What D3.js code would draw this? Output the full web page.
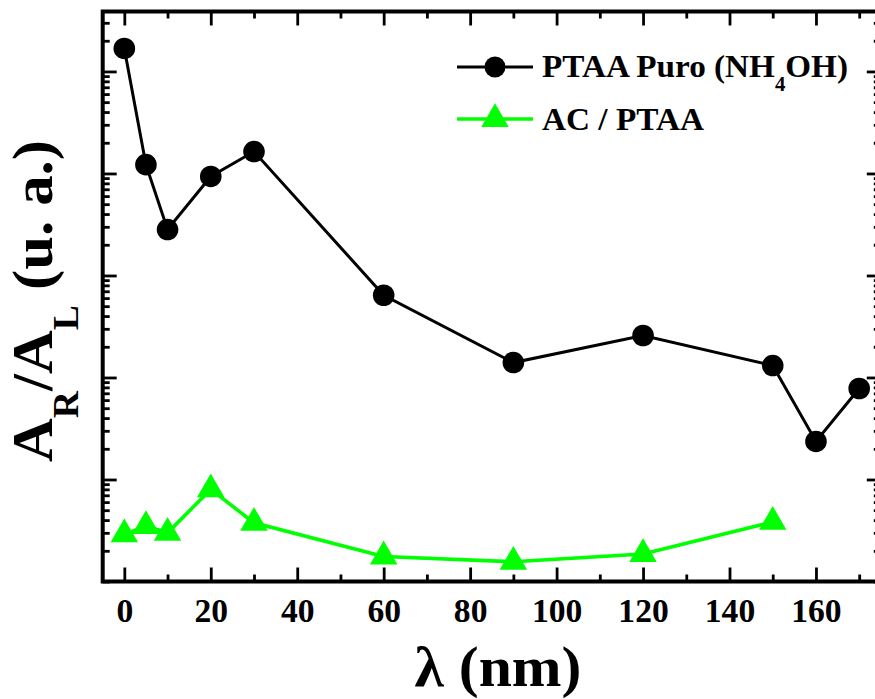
<!DOCTYPE html>
<html>
<head>
<meta charset="utf-8">
<script src="https://cdn.jsdelivr.net/npm/d3@7"></script>
<style>
  html, body { margin: 0; padding: 0; background: #fff; }
  svg { display: block; }
  svg text { font-family: 'Liberation Serif', 'Times New Roman', serif; font-weight: 700; }
</style>
</head>
<body>
<svg id="chart" width="875" height="699"></svg>
<script>
// Wavelength (nm) and A_R/A_L ratio (arbitrary units) for each film
const lambdaPure = [0, 5, 10, 20, 30, 60, 90, 120, 150, 160, 170];
const ratioPure  = [1680, 122, 28.2, 93.5, 164, 6.4, 1.40, 2.58, 1.31, 0.236, 0.78];

const lambdaAC = [0, 5, 10, 20, 30, 60, 90, 120, 150];
const ratioAC  = [0.029, 0.035, 0.030, 0.080, 0.0376, 0.0176, 0.0156, 0.0186, 0.0384];

const seriesNames = ["PTAA Puro (NH", "4", "OH)", "AC / PTAA"];

const xMajorTicks = [0, 20, 40, 60, 80, 100, 120, 140, 160];
const xMinorTicks = [10, 30, 50, 70, 90, 110, 130, 150, 170];
const yMajorTicks = [0.1, 1, 10, 100, 1000];

const svg = d3.select("#chart");
const serif = "'Liberation Serif', 'Times New Roman', serif";

const plotL = 102.7, plotR = 880.8, plotT = 11.5, plotB = 581.5;
const x = d3.scaleLinear().domain([-5, 175]).range([plotL, plotR]);
const y = d3.scaleLog().domain([0.01, 3870]).range([plotB, plotT]);

// log minor ticks (2..9 in each decade)
const yMinorTicks = y.ticks().filter(v => !yMajorTicks.some(m => Math.abs(m - v) / m < 1e-6));

const tickW = 2.8;

// squeeze a text horizontally (in its own frame) so it spans the given width
function fitWidth(node, width, ax, ay, pre = "") {
  const w = node.getBBox().width;
  const s = width / w;
  node.setAttribute("transform",
    `${pre} translate(${ax},${ay}) scale(${s},1) translate(${-ax},${-ay})`);
}

function styleAxis(g) {
  g.select(".domain").remove();
  g.selectAll(".tick line").attr("stroke", "#000").attr("stroke-width", tickW);
}

// bottom axis with labels, ticks pointing inward
svg.append("g")
  .attr("transform", `translate(0,${plotB})`)
  .call(d3.axisBottom(x).tickValues(xMajorTicks).tickSize(-14).tickPadding(16).tickFormat(d3.format("d")))
  .call(styleAxis)
  .call(g => g.attr("font-family", serif).attr("font-size", 34))
  .call(g => g.selectAll("text")
    .attr("font-family", serif)
    .attr("font-weight", "bold").attr("font-size", 34).attr("fill", "#000")
    .each(function (d) { fitWidth(this, String(d).length * 16.8, 0, 0); }));
svg.append("g")
  .attr("transform", `translate(0,${plotB})`)
  .call(d3.axisBottom(x).tickValues(xMinorTicks).tickSize(-7).tickFormat(""))
  .call(styleAxis);

// top axis (ticks only)
svg.append("g")
  .attr("transform", `translate(0,${plotT})`)
  .call(d3.axisTop(x).tickValues(xMajorTicks).tickSize(-14).tickFormat(""))
  .call(styleAxis);
svg.append("g")
  .attr("transform", `translate(0,${plotT})`)
  .call(d3.axisTop(x).tickValues(xMinorTicks).tickSize(-7).tickFormat(""))
  .call(styleAxis);

// left and right log axes (ticks only)
[[d3.axisLeft, plotL], [d3.axisRight, plotR]].forEach(([axis, pos]) => {
  svg.append("g")
    .attr("transform", `translate(${pos},0)`)
    .call(axis(y).tickValues(yMajorTicks).tickSize(-14).tickFormat(""))
    .call(styleAxis);
  svg.append("g")
    .attr("transform", `translate(${pos},0)`)
    .call(axis(y).tickValues(yMinorTicks).tickSize(-7).tickFormat(""))
    .call(styleAxis);
});

// frame
svg.append("rect")
  .attr("x", plotL).attr("y", plotT)
  .attr("width", plotR - plotL).attr("height", plotB - plotT)
  .attr("fill", "none").attr("stroke", "#000").attr("stroke-width", 4);

const line = d3.line().x(d => x(d[0])).y(d => y(d[1]));
const pure = lambdaPure.map((l, i) => [l, ratioPure[i]]);
const ac = lambdaAC.map((l, i) => [l, ratioAC[i]]);

const green = "#00ff00";
const triSize = 327;

svg.append("path").datum(pure)
  .attr("d", line).attr("fill", "none").attr("stroke", "#000").attr("stroke-width", 3);
svg.append("path").datum(ac)
  .attr("d", line).attr("fill", "none").attr("stroke", green).attr("stroke-width", 3.6);

svg.append("g").selectAll("circle").data(pure).join("circle")
  .attr("cx", d => x(d[0])).attr("cy", d => y(d[1])).attr("r", 10.8).attr("fill", "#000");

svg.append("g").selectAll("path").data(ac).join("path")
  .attr("d", d3.symbol(d3.symbolTriangle, triSize))
  .attr("transform", d => `translate(${x(d[0])},${y(d[1])})`)
  .attr("fill", green);

// legend
const lg = svg.append("g");
lg.append("line").attr("x1", 457).attr("x2", 533).attr("y1", 67).attr("y2", 67)
  .attr("stroke", "#000").attr("stroke-width", 3);
lg.append("circle").attr("cx", 495).attr("cy", 67).attr("r", 10.5).attr("fill", "#000");
const t1 = lg.append("text").attr("x", 542).attr("y", 77).attr("font-size", 32)
  .attr("font-family", serif).attr("font-weight", "bold").attr("fill", "#000");
t1.append("tspan").text(seriesNames[0]);
t1.append("tspan").attr("font-size", 20).attr("dy", 14).text(seriesNames[1]);
t1.append("tspan").attr("dy", -14).text(seriesNames[2]);
fitWidth(t1.node(), 306, 542, 77);

lg.append("line").attr("x1", 457).attr("x2", 533).attr("y1", 119).attr("y2", 119)
  .attr("stroke", green).attr("stroke-width", 3.6);
lg.append("path").attr("d", d3.symbol(d3.symbolTriangle, triSize))
  .attr("transform", "translate(495,119)").attr("fill", green);
const t2 = lg.append("text").attr("x", 542).attr("y", 130).attr("font-size", 32)
  .attr("font-family", serif).attr("font-weight", "bold").attr("fill", "#000")
  .text(seriesNames[3]);
fitWidth(t2.node(), 162, 542, 130);

// axis titles
const xt = svg.append("text")
  .attr("x", 498).attr("y", 686).attr("text-anchor", "middle")
  .attr("font-family", serif).attr("font-weight", "bold")
  .attr("font-size", 58).attr("fill", "#000")
  .text("λ (nm)");
fitWidth(xt.node(), 167, 498, 686);

const yt = svg.append("text")
  .attr("text-anchor", "middle").attr("font-size", 58)
  .attr("font-family", serif).attr("font-weight", "bold").attr("fill", "#000");
yt.append("tspan").text("A");
yt.append("tspan").attr("font-size", 36).attr("dy", 26).text("R");
yt.append("tspan").attr("dy", -26).text("/A");
yt.append("tspan").attr("font-size", 36).attr("dy", 26).text("L");
yt.append("tspan").attr("dy", -26).text(" (u. a.)");
fitWidth(yt.node(), 322, 0, 0, "translate(52,301) rotate(-90)");
</script>
</body>
</html>
